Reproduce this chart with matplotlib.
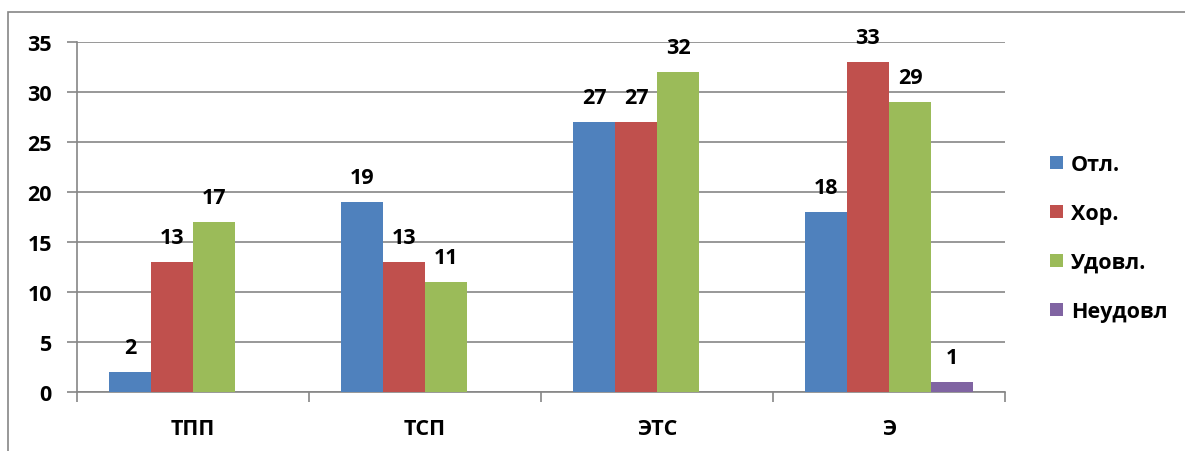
import numpy as np
import matplotlib.pyplot as plt
from matplotlib.patches import Rectangle

categories = ['ТПП', 'ТСП', 'ЭТС', 'Э']
series_names = ['Отл.', 'Хор.', 'Удовл.', 'Неудовл']
otl = [2, 19, 27, 18]
hor = [13, 13, 27, 33]
udovl = [17, 11, 32, 29]
neudovl = [0, 0, 0, 1]
colors = ['#4F81BD', '#C0504D', '#9BBB59', '#8064A2']

plt.rcParams['font.family'] = ['Open Sans', 'DejaVu Sans']
plt.rcParams['font.weight'] = 'bold'
fs = 15.5

fig = plt.figure(figsize=(11.85, 4.52), dpi=100)
ax = fig.add_axes([77/1185, 1 - 393/452, 928/1185, 350/452])

# chart area border
fig.patches.append(Rectangle((8/1185, -0.1), 1.2, 1 - 13/452 + 0.1,
                             transform=fig.transFigure, fill=False,
                             edgecolor='#868686', linewidth=1.2))

x = np.arange(len(categories))
w = 42/232
for i, (vals, name) in enumerate(zip([otl, hor, udovl, neudovl], series_names)):
    pos = x + (i - 1.5)*w
    ax.bar(pos, vals, width=w, color=colors[i], label=name, zorder=3)
    for p, v in zip(pos, vals):
        if v != 0:
            ax.annotate(str(v), (p, v), xytext=(0, 10), textcoords='offset points',
                        ha='center', va='bottom', fontsize=fs, fontweight='bold')

ax.set_xlim(-0.5, 3.5)
ax.set_ylim(0, 35)
ax.set_yticks(range(0, 36, 5))
ax.yaxis.grid(True, color='#868686', linewidth=1.2, zorder=0)
ax.set_axisbelow(True)
ax.tick_params(axis='y', length=7, width=1.2, color='#868686', pad=11, labelsize=fs)

ax.set_xticks([-0.5, 0.5, 1.5, 2.5, 3.5])
ax.set_xticklabels([])
ax.set_xticks(x, minor=True)
ax.set_xticklabels(categories, minor=True)
ax.tick_params(axis='x', which='major', length=7, width=1.2, color='#868686')
ax.tick_params(axis='x', which='minor', length=0, pad=19, labelsize=fs)

for s in ['top', 'right']:
    ax.spines[s].set_visible(False)
ax.spines['left'].set_color('#868686')
ax.spines['bottom'].set_color('#868686')
ax.spines['left'].set_linewidth(1.2)
ax.spines['bottom'].set_linewidth(1.2)

leg = fig.legend(loc='center left', bbox_to_anchor=(1031/1185, 1 - 239/452),
                 frameon=False, fontsize=fs, handlelength=0.6, handleheight=0.6,
                 handletextpad=0.35, labelspacing=1.3)

fig.savefig('out.png', dpi=100)
